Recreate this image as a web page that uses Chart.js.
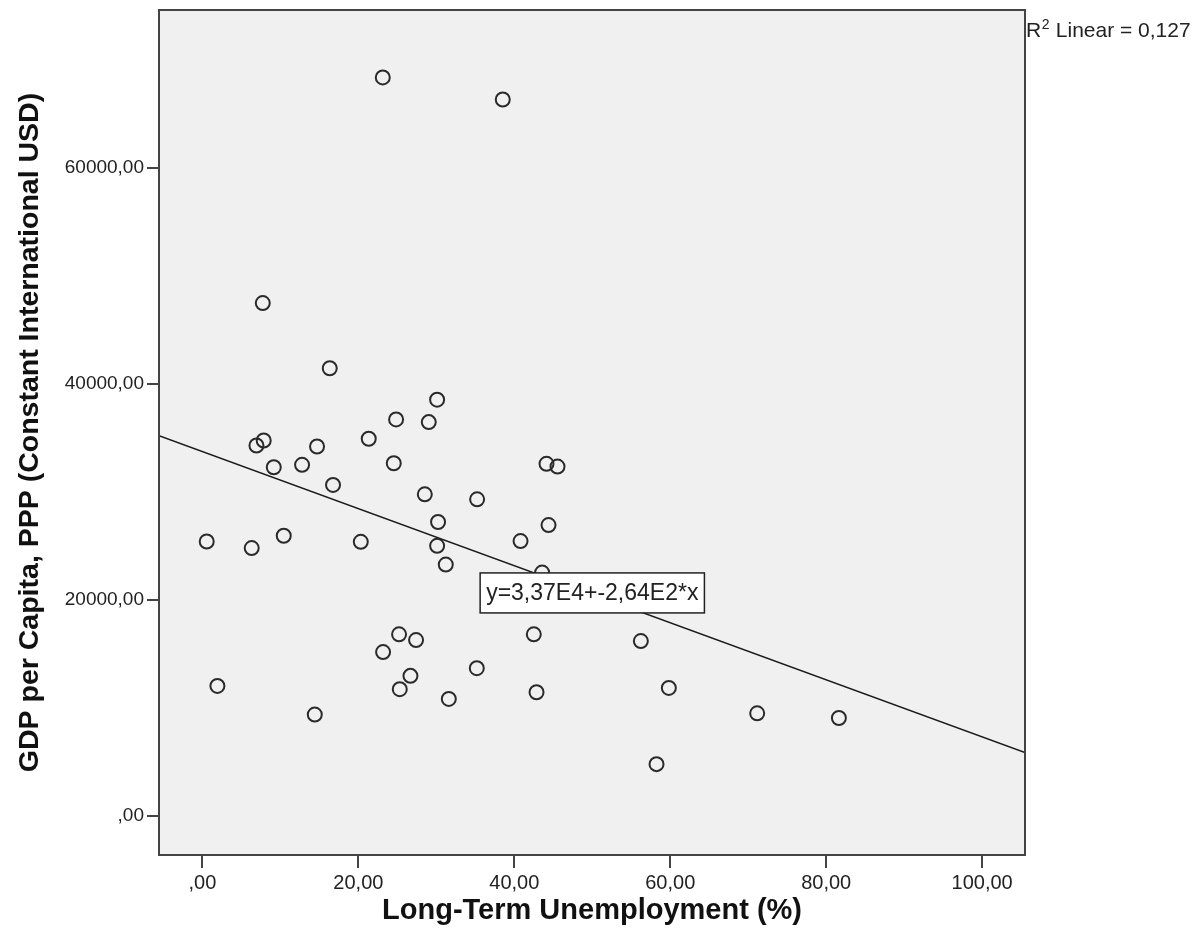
<!DOCTYPE html>
<html>
<head>
<meta charset="utf-8">
<script src="https://cdn.jsdelivr.net/npm/chart.js@4.4.1/dist/chart.umd.min.js"></script>
<style>
  html, body { margin: 0; padding: 0; background: #ffffff; }
  #wrap { width: 1197px; height: 943px; }
</style>
</head>
<body>
<div id="wrap"><canvas id="c" width="1197" height="943"></canvas></div>
<script>
// ---- data ----
const unemployment = [23.13, 38.52, 7.74, 16.33, 7.86, 6.93, 14.70, 9.15, 12.78, 30.10,
  24.84, 29.03, 21.33, 24.54, 16.75, 28.52, 35.23, 30.22, 20.31, 30.10,
  40.80, 31.21, 0.55, 6.32, 10.43, 1.92, 14.41, 25.22, 27.40, 23.17,
  26.68, 25.31, 31.60, 35.19, 42.50, 42.85, 44.13, 45.54, 44.39, 43.57,
  56.23, 59.82, 71.15, 81.63, 58.24];
const gdpPerCapita = [68357, 66313, 47460, 41423, 34736, 34271, 34178, 32256, 32479, 38516,
  36686, 36436, 34894, 32628, 30621, 29749, 29284, 27185, 25355, 24984,
  25420, 23247, 25383, 24770, 25913, 12009, 9353, 16783, 16253, 15139,
  12938, 11703, 10802, 13653, 16783, 11424, 32572, 32321, 26906, 22504,
  16160, 11823, 9473, 9037, 4765];
const xTickValues = [0, 20, 40, 60, 80, 100];
const yTickValues = [0, 20000, 40000, 60000];
const xRange = [-5.57, 105.5];
const yRange = [-3650, 74600];
const fitIntercept = 33700;
const fitSlope = -264;
const equationText = "y=3,37E4+-2,64E2*x";
const equationAnchor = [50, 20620];
const r2Value = "0,127";
const xTitle = "Long-Term Unemployment (%)";
const yTitle = "GDP per Capita, PPP (Constant International USD)";

function fmtTick(v) {
  return v === 0 ? ",00" : String(v) + ",00";
}

const points = unemployment.map((x, i) => ({ x: x, y: gdpPerCapita[i] }));
const fitLine = xRange.map(x => ({ x: x, y: fitIntercept + fitSlope * x }));

const FONT = "'Liberation Sans', Arial, sans-serif";
const INK = '#444444';

const framePlugin = {
  id: 'frame',
  beforeDatasetsDraw(chart) {
    const { ctx, chartArea: a } = chart;
    ctx.save();
    ctx.fillStyle = '#f0f0f0';
    ctx.fillRect(a.left, a.top, a.right - a.left, a.bottom - a.top);
    ctx.restore();
  },
  afterDatasetsDraw(chart) {
    const { ctx, chartArea: a, scales } = chart;
    ctx.save();
    // frame
    ctx.strokeStyle = INK;
    ctx.lineWidth = 2;
    ctx.strokeRect(a.left, a.top, a.right - a.left, a.bottom - a.top);
    // equation label
    const cx = scales.x.getPixelForValue(equationAnchor[0]);
    const cy = scales.y.getPixelForValue(equationAnchor[1]);
    ctx.font = "23px " + FONT;
    const tw = ctx.measureText(equationText).width;
    const bw = tw + 12, bh = 40;
    ctx.fillStyle = '#ffffff';
    ctx.fillRect(cx - bw / 2, cy - bh / 2, bw, bh);
    ctx.strokeStyle = '#222222';
    ctx.lineWidth = 1.5;
    ctx.strokeRect(cx - bw / 2, cy - bh / 2, bw, bh);
    ctx.fillStyle = '#222222';
    ctx.textBaseline = 'middle';
    ctx.textAlign = 'center';
    ctx.fillText(equationText, cx, cy + 1);
    // R2 label
    ctx.textAlign = 'left';
    ctx.textBaseline = 'alphabetic';
    let x = a.right + 1;
    const base = a.top + 27;
    ctx.font = "21px " + FONT;
    ctx.fillText("R", x, base);
    x += ctx.measureText("R").width;
    ctx.font = "14px " + FONT;
    ctx.fillText("2", x + 0.5, base - 8);
    x += ctx.measureText("2").width + 1;
    ctx.font = "21px " + FONT;
    ctx.fillText(" Linear = " + r2Value, x, base);
    ctx.restore();
  }
};

new Chart(document.getElementById('c'), {
  type: 'scatter',
  data: {
    datasets: [
      {
        type: 'line',
        data: fitLine,
        borderColor: '#1a1a1a',
        borderWidth: 1.5,
        pointRadius: 0,
        fill: false,
        order: 2
      },
      {
        data: points,
        pointStyle: 'circle',
        pointRadius: 7,
        pointHoverRadius: 7,
        borderWidth: 2,
        borderColor: '#2a2a2a',
        backgroundColor: 'rgba(0,0,0,0)',
        order: 1
      }
    ]
  },
  options: {
    responsive: false,
    animation: false,
    devicePixelRatio: 1,
    layout: { padding: { top: 10, right: 172, left: 0, bottom: 0 } },
    plugins: { legend: { display: false }, tooltip: { enabled: false } },
    scales: {
      x: {
        type: 'linear',
        min: xRange[0],
        max: xRange[1],
        afterBuildTicks(s) { s.ticks = xTickValues.map(v => ({ value: v })); },
        afterFit(s) { s.height = 88; s.paddingLeft = 0; s.paddingRight = 0; },
        ticks: {
          callback: v => fmtTick(v),
          font: { family: FONT, size: 20 },
          color: '#222222',
          padding: 3,
          maxRotation: 0,
          autoSkip: false
        },
        grid: { drawOnChartArea: false, drawTicks: true, tickLength: 13, color: INK, lineWidth: 2 },
        border: { display: true, color: INK, width: 2 },
        title: {
          display: true,
          text: xTitle,
          font: { family: FONT, size: 29, weight: 'bold' },
          color: '#111111',
          padding: { top: 0, bottom: 15 }
        }
      },
      y: {
        type: 'linear',
        min: yRange[0],
        max: yRange[1],
        afterBuildTicks(s) { s.ticks = yTickValues.map(v => ({ value: v })); },
        afterFit(s) { s.width = 159; s.paddingTop = 0; s.paddingBottom = 0; },
        ticks: {
          callback: v => fmtTick(v),
          font: { family: FONT, size: 19 },
          color: '#222222',
          padding: 3,
          autoSkip: false
        },
        grid: { drawOnChartArea: false, drawTicks: true, tickLength: 12, color: INK, lineWidth: 2 },
        border: { display: true, color: INK, width: 2 },
        title: {
          display: true,
          text: yTitle,
          font: { family: FONT, size: 28.5, weight: 'bold' },
          color: '#111111',
          padding: { top: 13, bottom: 0 }
        }
      }
    }
  },
  plugins: [framePlugin]
});
</script>
</body>
</html>
